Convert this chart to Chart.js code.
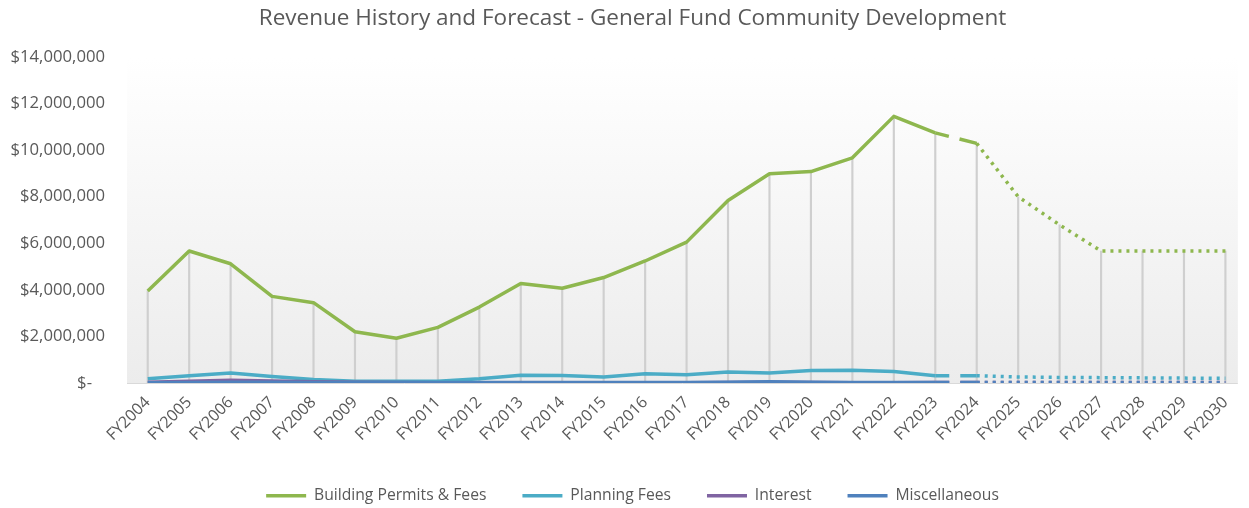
<!DOCTYPE html>
<html>
<head>
<meta charset="utf-8">
<title>Revenue History and Forecast - General Fund Community Development</title>
<script src="https://cdn.jsdelivr.net/npm/chart.js@4/dist/chart.umd.min.js"></script>
<style>
  html, body { margin: 0; padding: 0; background: #ffffff; }
  #wrap { width: 1249px; height: 508px; }
</style>
</head>
<body>
<div id="wrap"><canvas id="chart" width="1249" height="508"></canvas></div>
<script>
// Fiscal years shown on the horizontal axis
const categories = [
  'FY2004','FY2005','FY2006','FY2007','FY2008','FY2009','FY2010','FY2011','FY2012',
  'FY2013','FY2014','FY2015','FY2016','FY2017','FY2018','FY2019','FY2020','FY2021',
  'FY2022','FY2023','FY2024','FY2025','FY2026','FY2027','FY2028','FY2029','FY2030'
];

// Revenue by source, in dollars (FY2024 onward is forecast)
const buildingPermits = [
  3950000, 5670000, 5120000, 3720000, 3450000, 2200000, 1920000, 2390000, 3260000,
  4270000, 4070000, 4530000, 5240000, 6050000, 7840000, 8990000, 9080000, 9670000,
  11450000, 10740000, 10290000, 8000000, 6790000, 5670000, 5670000, 5670000, 5670000
];
const planningFees = [
  180000, 310000, 430000, 280000, 150000, 70000, 70000, 70000, 180000,
  330000, 320000, 260000, 400000, 350000, 470000, 430000, 540000, 550000,
  490000, 310000, 310000, 260000, 240000, 230000, 220000, 210000, 200000
];
const interest = [
  30000, 70000, 120000, 90000, 50000, 30000, 20000, 10000, 10000,
  10000, 10000, 10000, 10000, 10000, 20000, 30000, 20000, 10000,
  10000, 20000, 20000, 20000, 20000, 20000, 20000, 20000, 20000
];
const miscellaneous = [
  10000, 20000, 30000, 30000, 20000, 20000, 20000, 20000, 20000,
  20000, 20000, 20000, 20000, 20000, 30000, 50000, 30000, 20000,
  20000, 20000, 20000, 20000, 20000, 20000, 20000, 20000, 20000
];

// Value axis ticks
const yMin = 0;
const yMax = 14000000;
const yStep = 2000000;

// Horizontal extent of the plot, in category units
const xMin = -0.5;
const xPlotEnd = 26.3;
const xMax = 26.41;

const forecastStart = categories.indexOf('FY2024');

const textColor = '#595959';
Chart.defaults.font.family = "'Open Sans', 'DejaVu Sans', sans-serif";
Chart.defaults.color = textColor;

const toPoints = (values) => values.map((v, i) => ({ x: i, y: v }));

// Solid history, a long dash into the first forecast year, dots afterwards
const segmentStyle = {
  borderDash: (ctx) => {
    if (ctx.p0DataIndex >= forecastStart) return [3, 5];
    if (ctx.p1DataIndex === forecastStart) return [14, 11, 20, 11];
    return undefined;
  }
};

function lineSeries(label, values, color, order) {
  return {
    type: 'line',
    label,
    data: toPoints(values),
    borderColor: color,
    backgroundColor: color,
    borderWidth: 3.5,
    borderJoinStyle: 'round',
    borderCapStyle: 'butt',
    pointRadius: 0,
    pointHoverRadius: 0,
    tension: 0,
    fill: false,
    order,
    segment: segmentStyle
  };
}

// Soft vertical gradient behind the plot area, plus the category axis line
const plotBackground = {
  id: 'plotBackground',
  beforeDraw(chart) {
    const { ctx, chartArea: a, scales } = chart;
    const right = scales.x.getPixelForValue(xPlotEnd);
    const g = ctx.createLinearGradient(0, a.top, 0, a.bottom);
    g.addColorStop(0, '#ffffff');
    g.addColorStop(1, '#ececec');
    ctx.save();
    ctx.fillStyle = g;
    ctx.fillRect(a.left, a.top, right - a.left, a.bottom - a.top);
    ctx.restore();
  },
  beforeDatasetsDraw(chart) {
    const { ctx, chartArea: a, scales } = chart;
    const right = scales.x.getPixelForValue(xPlotEnd);
    const y = Math.round(scales.y.getPixelForValue(0)) + 0.5;
    ctx.save();
    ctx.strokeStyle = '#d9d9d9';
    ctx.lineWidth = 1;
    ctx.beginPath();
    ctx.moveTo(a.left, y);
    ctx.lineTo(right, y);
    ctx.stroke();
    ctx.restore();
  }
};

new Chart(document.getElementById('chart'), {
  type: 'line',
  data: {
    datasets: [
      lineSeries('Building Permits & Fees', buildingPermits, '#8EB74E', 3),
      lineSeries('Planning Fees', planningFees, '#4BACC6', 2),
      lineSeries('Interest', interest, '#8064A2', 1),
      lineSeries('Miscellaneous', miscellaneous, '#4F81BD', 0),
      {
        // drop lines from the top series down to the axis
        type: 'bar',
        label: 'Drop lines',
        data: toPoints(buildingPermits),
        backgroundColor: '#cfcfcf',
        borderWidth: 0,
        barThickness: 1.5,
        order: 10
      }
    ]
  },
  options: {
    responsive: false,
    animation: false,
    events: [],
    layout: { padding: { left: 0, right: -16, top: 0, bottom: 0 } },
    scales: {
      x: {
        type: 'linear',
        min: xMin,
        max: xMax,
        offset: false,
        grid: { display: false, drawTicks: false },
        border: { display: false },
        ticks: {
          stepSize: 1,
          includeBounds: false,
          autoSkip: false,
          minRotation: 45,
          maxRotation: 45,
          padding: 10,
          color: textColor,
          font: { size: 16 },
          callback: (v) => (Number.isInteger(v) && categories[v]) ? categories[v] : ''
        },
        afterFit: (scale) => { scale.height = 69; }
      },
      y: {
        min: yMin,
        max: yMax,
        grid: { display: false, drawTicks: false },
        border: { display: false },
        ticks: {
          stepSize: yStep,
          padding: 22,
          color: textColor,
          font: { size: 16.7 },
          callback: (v) => v === 0 ? '$-   ' : '$' + v.toLocaleString('en-US')
        },
        afterFit: (scale) => { scale.width = 127; }
      }
    },
    plugins: {
      title: {
        display: true,
        text: 'Revenue History and Forecast - General Fund Community Development',
        color: textColor,
        font: { size: 22.5, weight: 'normal' },
        padding: { top: 5, bottom: 25 }
      },
      legend: {
        position: 'bottom',
        maxHeight: 56,
        labels: {
          usePointStyle: true,
          pointStyle: 'line',
          pointStyleWidth: 40,
          padding: 36,
          color: textColor,
          font: { size: 15.7 },
          filter: (item) => item.datasetIndex < 4,
          sort: (a, b) => a.datasetIndex - b.datasetIndex
        }
      },
      tooltip: { enabled: false }
    }
  },
  plugins: [plotBackground]
});
</script>
</body>
</html>
